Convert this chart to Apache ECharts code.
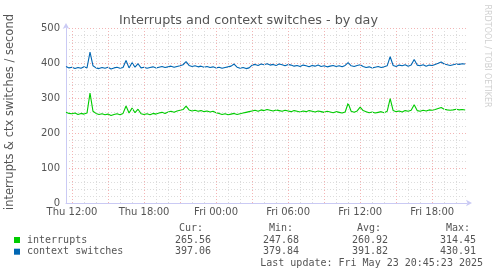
<!DOCTYPE html>
<html>
<head>
<meta charset="utf-8">
<script src="https://cdn.jsdelivr.net/npm/echarts@6/dist/echarts.min.js"></script>
<style>
  html, body { margin: 0; padding: 0; background: #fff; }
  #chart { width: 497px; height: 276px; }
</style>
</head>
<body>
<div id="chart"></div>
<script>
'use strict';

// hours since Thu 00:00, one sample every 15 min from Thu 11:30
var startHour = 11.5;
var stepHour = 0.25;

var interrupts = [
  259, 256, 255, 257, 253, 256, 254, 257, 314, 262,
  256, 253, 255, 252, 254, 250, 253, 255, 252, 256,
  277, 257, 271, 258, 268, 255, 253, 255, 252, 256,
  254, 257, 259, 256, 260, 262, 259, 263, 265, 267,
  277, 266, 263, 265, 262, 264, 261, 263, 260, 262,
  258, 256, 253, 255, 252, 254, 256, 253, 255, 257,
  259, 261, 263, 265, 262, 266, 264, 267, 265, 263,
  266, 264, 262, 265, 263, 261, 264, 262, 260, 263,
  261, 264, 262, 260, 263, 261, 259, 262, 260, 258,
  261, 259, 257, 260, 285, 262, 259, 263, 274, 264,
  261, 258, 260, 257, 259, 261, 258, 262, 298, 264,
  261, 263, 260, 264, 262, 265, 281, 264, 262, 265,
  263, 266, 265, 267, 270, 273, 268, 266, 265, 266,
  268, 266, 267, 265.56
];

var ctxSwitches = [
  390, 386, 388, 384, 387, 385, 389, 386, 431, 392,
  386, 384, 387, 385, 388, 383, 386, 388, 385, 387,
  407, 386, 401, 388, 398, 386, 388, 385, 387, 389,
  386, 388, 390, 387, 389, 391, 388, 390, 392, 395,
  404, 393, 390, 392, 389, 391, 388, 390, 387, 389,
  386, 388, 385, 387, 389, 391, 397, 388, 385, 387,
  384, 386, 394, 396, 393, 397, 395, 398, 394, 396,
  393, 397, 395, 392, 396, 394, 391, 393, 390, 394,
  392, 389, 393, 391, 394, 390, 392, 389, 391, 393,
  390, 392, 389, 393, 401, 392, 390, 393, 395, 390,
  387, 389, 386, 388, 390, 387, 389, 392, 418, 393,
  390, 394, 392, 395, 391, 394, 410, 394, 392, 395,
  391, 394, 393, 396, 399, 403, 397, 395, 393, 395,
  397, 396, 398, 397.06
];

var labelHours = [12, 18, 24, 30, 36, 42];
var labelTexts = ['Thu 12:00', 'Thu 18:00', 'Fri 00:00', 'Fri 06:00', 'Fri 12:00', 'Fri 18:00'];
var majorHours = [12, 15, 18, 21, 24, 27, 30, 33, 36, 39, 42];
var minorHours = [13, 14, 16, 17, 19, 20, 22, 23, 25, 26, 28, 29, 31, 32, 34, 35, 37, 38, 40, 41, 43, 44];

var seriesNames = ['interrupts', 'context switches'];
var seriesColors = ['#00cc00', '#0066b3'];
var statCur = ['265.56', '397.06'];
var statMin = ['247.68', '379.84'];
var statAvg = ['260.92', '391.82'];
var statMax = ['314.45', '430.91'];
var lastUpdate = 'Last update: Fri May 23 20:45:23 2025';

function toPairs(values) {
  return values.map(function (v, i) {
    return [startHour + i * stepHour, v];
  });
}

var textColor = '#555';
var axisColor = '#cacaf4';
var majorColor = '#f3b4b4';
var minorColor = '#dcdcdc';
var mono = '"DejaVu Sans Mono", monospace';

var myChart = echarts.init(document.getElementById('chart'));

// legend / stats block, munin style
var graphics = [];
function txt(x, y, s, align, extra) {
  var style = {
    text: s, x: x, y: y, fill: textColor,
    font: '10px ' + mono, align: align, verticalAlign: 'middle'
  };
  graphics.push({type: 'text', silent: true, style: Object.assign(style, extra || {})});
}
txt(203, 228, 'Cur:', 'right');
txt(293, 228, 'Min:', 'right');
txt(381, 228, 'Avg:', 'right');
txt(470, 228, 'Max:', 'right');
seriesNames.forEach(function (name, i) {
  var y = 240 + i * 11.7;
  graphics.push({
    type: 'rect', silent: true,
    shape: {x: 14, y: y - 3, width: 6, height: 6},
    style: {fill: seriesColors[i]}
  });
  txt(27, y, name, 'left');
  txt(211, y, statCur[i], 'right');
  txt(299, y, statMin[i], 'right');
  txt(388, y, statAvg[i], 'right');
  txt(476, y, statMax[i], 'right');
});
txt(483, 263.5, lastUpdate, 'right');

graphics.push({
  type: 'text', silent: true, x: 10, y: 112, rotation: Math.PI / 2,
  style: {
    text: 'interrupts & ctx switches / second', fill: textColor,
    font: '11.5px "DejaVu Sans"', align: 'center', verticalAlign: 'middle'
  }
});
graphics.push({
  type: 'text', silent: true, x: 487, y: 56, rotation: -Math.PI / 2,
  style: {
    text: 'RRDTOOL / TOBI OETIKER', fill: '#d0d0d0',
    font: '8px "DejaVu Sans"', align: 'center', verticalAlign: 'middle'
  }
});

function vLines(hours) {
  return hours.map(function (h) { return {xAxis: h}; });
}

var option = {
  animation: false,
  backgroundColor: '#fff',
  textStyle: {fontFamily: 'DejaVu Sans'},
  title: {
    text: 'Interrupts and context switches - by day',
    left: 'center',
    top: 9,
    textStyle: {fontSize: 12.8, fontWeight: 'normal', color: textColor, fontFamily: 'DejaVu Sans'}
  },
  grid: {left: 66, right: 30, top: 28, bottom: 73},
  xAxis: {
    type: 'value',
    min: 11.5,
    max: 44.9,
    axisLine: {
      show: true, onZero: false,
      lineStyle: {color: axisColor, width: 1},
      symbol: ['none', 'arrow'], symbolSize: [5, 6], symbolOffset: [0, 5]
    },
    axisTick: {show: false},
    splitLine: {show: false},
    axisLabel: {
      customValues: labelHours,
      color: textColor, fontSize: 10, margin: 4,
      formatter: function (v) {
        var i = labelHours.indexOf(v);
        return i >= 0 ? labelTexts[i] : '';
      }
    }
  },
  yAxis: {
    type: 'value',
    min: 0,
    max: 500,
    interval: 100,
    axisLine: {
      show: true,
      lineStyle: {color: axisColor, width: 1},
      symbol: ['none', 'arrow'], symbolSize: [5, 6], symbolOffset: [0, 5]
    },
    axisTick: {show: false},
    axisLabel: {color: textColor, fontSize: 10, margin: 6},
    splitLine: {lineStyle: {color: majorColor, type: [1, 2], width: 1}},
    minorTick: {show: false, splitNumber: 5},
    minorSplitLine: {show: true, lineStyle: {color: minorColor, type: [1, 2], width: 1}}
  },
  graphic: graphics,
  series: [
    {
      name: 'grid',
      type: 'line',
      data: [],
      silent: true,
      z: 1,
      markLine: {
        silent: true,
        symbol: ['none', 'none'],
        label: {show: false},
        animation: false,
        lineStyle: {color: minorColor, type: [1, 2], width: 1},
        data: vLines(minorHours)
      }
    },
    {
      name: 'gridMajor',
      type: 'line',
      data: [],
      silent: true,
      z: 1,
      markLine: {
        silent: true,
        symbol: ['none', 'none'],
        label: {show: false},
        animation: false,
        lineStyle: {color: majorColor, type: [1, 2], width: 1},
        data: vLines(majorHours)
      }
    },
    {
      name: seriesNames[0],
      type: 'line',
      data: toPairs(interrupts),
      showSymbol: false,
      lineStyle: {color: seriesColors[0], width: 1.1},
      z: 3
    },
    {
      name: seriesNames[1],
      type: 'line',
      data: toPairs(ctxSwitches),
      showSymbol: false,
      lineStyle: {color: seriesColors[1], width: 1.1},
      z: 3
    }
  ]
};

myChart.setOption(option);
</script>
</body>
</html>
